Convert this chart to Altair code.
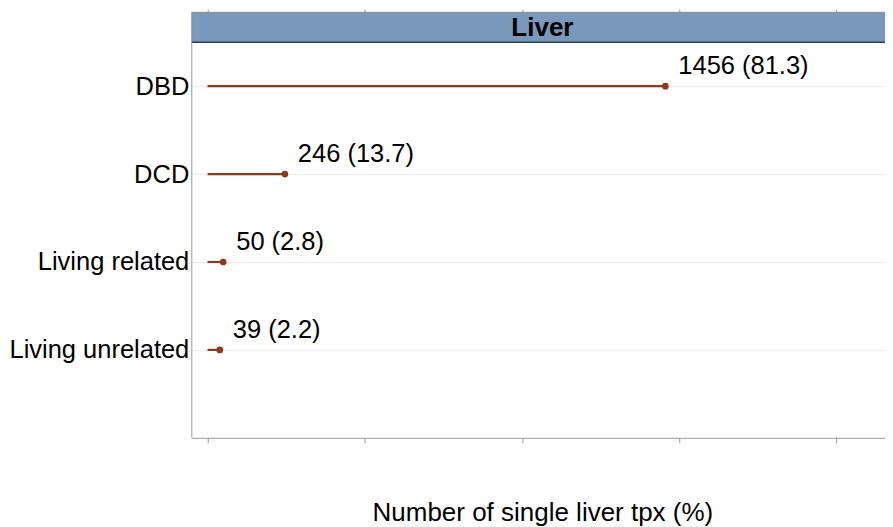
import altair as alt
import pandas as pd

donor_types = ["DBD", "DCD", "Living related", "Living unrelated"]
counts = [1456, 246, 50, 39]
percents = [81.3, 13.7, 2.8, 2.2]
panel = ["Liver"]
x_ticks = [0, 500, 1000, 1500, 2000]
x_title = "Number of single liver tpx (%)"

df = pd.DataFrame({"type": donor_types, "n": counts, "pct": percents})
df["label"] = [f"{n} ({p})" for n, p in zip(counts, percents)]
df["zero"] = 0
hdr = pd.DataFrame({"panel": panel})

W = 702
H = 426
HEADER = 30
FONT = "Liberation Sans"
FS = 25.5
RED = "#8B3A1E"
AXC = "#9a9a9a"

xscale = alt.Scale(domain=[-50, 2180], nice=False, zero=False)
yscale = alt.Scale(type="point", domain=donor_types, range=[74, 338], padding=0)

bottom_axis = alt.Axis(orient="bottom", values=x_ticks, labels=False, tickSize=5,
                       tickColor=AXC, domainColor=AXC, grid=False, title=x_title,
                       titleFontSize=26, titleFont=FONT, titleFontWeight="normal",
                       titleColor="black", titlePadding=56)
top_axis = alt.Axis(orient="top", values=x_ticks, labels=False, tickSize=3,
                    tickColor=AXC, domain=False, grid=False, title=None)
y_axis = alt.Axis(labels=True, ticks=False, domain=False, grid=True, gridColor="#ebebeb",
                  labelFontSize=FS, labelFont=FONT, labelColor="black", labelPadding=3,
                  labelLimit=400, title=None)

Y = alt.Y("type:N", scale=yscale, sort=donor_types, axis=y_axis)

stems = alt.Chart(df).mark_rule(color=RED, strokeWidth=2.2).encode(
    x=alt.X("zero:Q", scale=xscale, axis=bottom_axis),
    x2="n:Q",
    y=Y,
)
dots = alt.Chart(df).mark_circle(color=RED, size=45, opacity=1).encode(
    x=alt.X("n:Q", scale=xscale, axis=top_axis),
    y=Y,
)
labels = alt.Chart(df).mark_text(align="left", baseline="alphabetic", dx=13, dy=-12,
                                 font=FONT, fontSize=FS, color="black").encode(
    x=alt.X("n:Q", scale=xscale, axis=None),
    y=Y,
    text="label:N",
)
header_rect = alt.Chart(hdr).mark_rect(fill="#7a98bb", stroke="#8a8f96", strokeWidth=1).encode(
    x=alt.value(0), x2=alt.value(W), y=alt.value(0), y2=alt.value(HEADER)
)
header_line = alt.Chart(hdr).mark_rule(color="#2f3f52", strokeWidth=1.5).encode(
    x=alt.value(0), x2=alt.value(W), y=alt.value(HEADER)
)
header_text = alt.Chart(hdr).mark_text(font=FONT, fontSize=26, fontWeight="bold",
                                       color="black", baseline="middle").encode(
    x=alt.value(351), y=alt.value(HEADER / 2 + 1), text="panel:N"
)
left_line = alt.Chart(hdr).mark_rule(color=AXC, strokeWidth=1).encode(
    x=alt.value(0), y=alt.value(HEADER), y2=alt.value(H)
)

chart = alt.layer(
    header_rect, header_line, header_text, left_line, stems, dots, labels
).properties(
    width=W, height=H,
    padding={"left": 0, "top": 0, "right": -9, "bottom": 0},
).configure_view(strokeWidth=0)

chart.save("out.html", embed_options={"renderer": "svg", "actions": False})
